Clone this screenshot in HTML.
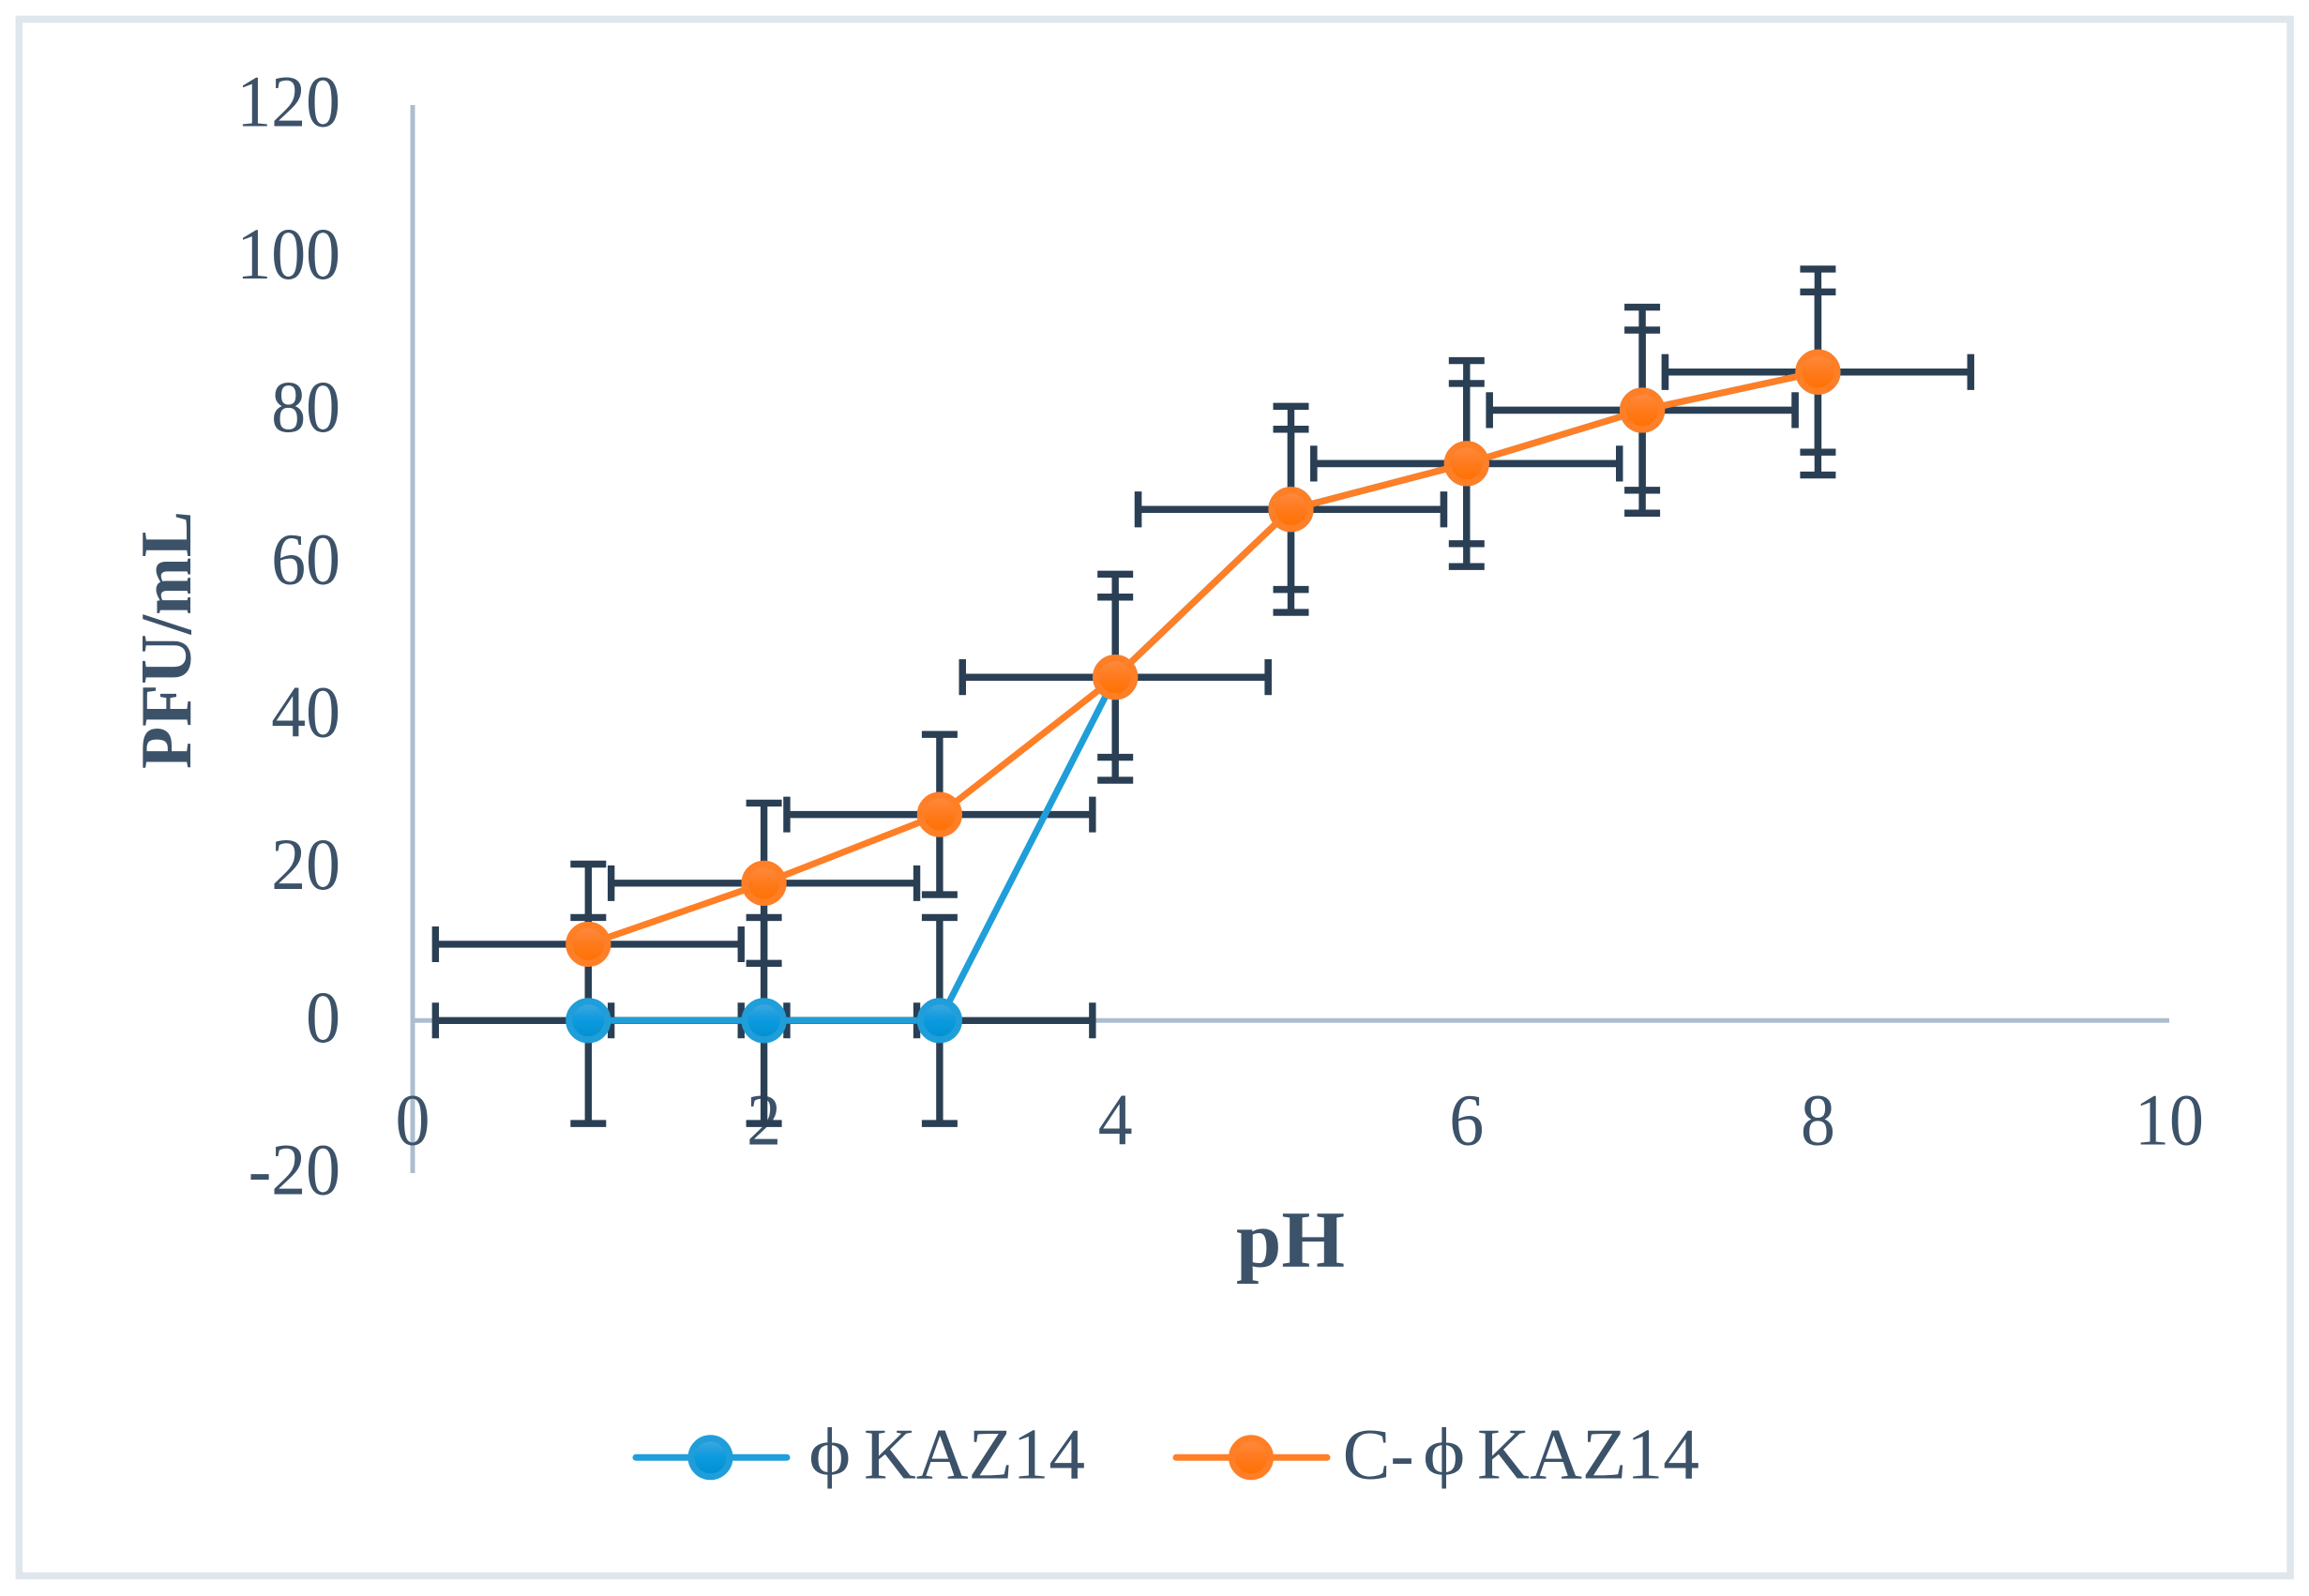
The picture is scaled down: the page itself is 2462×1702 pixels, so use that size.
<!DOCTYPE html>
<html lang="en">
<head>
<meta charset="utf-8">
<title>PFU/mL versus pH</title>
<style>
html,body{margin:0;padding:0;background:#fff;width:2462px;height:1702px;overflow:hidden}
svg{display:block}
text{font-family:"Liberation Serif","DejaVu Serif",serif;fill:#3c5269}
</style>
</head>
<body>
<svg id="chart" xmlns="http://www.w3.org/2000/svg" width="2462" height="1702" viewBox="0 0 2462 1702">
  <defs>
    <linearGradient id="blue-fill" x1="0" y1="0" x2="0" y2="1">
      <stop offset="0" stop-color="#47a9e2"/><stop offset="0.5" stop-color="#0a9ade"/><stop offset="1" stop-color="#0090d0"/>
    </linearGradient>
    <linearGradient id="orange-fill" x1="0" y1="0" x2="0" y2="1">
      <stop offset="0" stop-color="#ff8c42"/><stop offset="0.5" stop-color="#ff7a1c"/><stop offset="1" stop-color="#ff7000"/>
    </linearGradient>
  </defs>
  <rect x="20.3" y="20.5" width="2421.7" height="1660" fill="#fff" stroke="#dfe6ec" stroke-width="7.5"/>
  <g id="axes"></g>
  <g id="errors"></g>
  <g id="series"></g>
  <text x="1318" y="1350.5" font-size="86" font-weight="bold" textLength="116" lengthAdjust="spacingAndGlyphs">pH</text>
  <text transform="translate(203 820) rotate(-90)" font-size="77" font-weight="bold" textLength="275" lengthAdjust="spacingAndGlyphs">PFU/mL</text>
  <g>
    <g>
      <line x1="678" y1="1554.3" x2="839" y2="1554.3" stroke="#1f9ed9" stroke-width="7" stroke-linecap="round"/>
      <circle cx="757.5" cy="1554.3" r="20.5" fill="url(#blue-fill)" stroke="#1f9ed9" stroke-width="7"/>
      <text transform="translate(862 1572) scale(1.2 1)" font-size="72">ϕ</text>
      <text x="921" y="1576.7" font-size="77" textLength="236" lengthAdjust="spacingAndGlyphs">KAZ14</text>
    </g>
    <g>
      <line x1="1254" y1="1554.3" x2="1415" y2="1554.3" stroke="#ff7f27" stroke-width="7" stroke-linecap="round"/>
      <circle cx="1334" cy="1554.3" r="20.5" fill="url(#orange-fill)" stroke="#ff7f27" stroke-width="7"/>
      <text x="1431.7" y="1576.7" font-size="77" textLength="76" lengthAdjust="spacingAndGlyphs">C-</text>
      <text transform="translate(1517 1572) scale(1.2 1)" font-size="72">ϕ</text>
      <text x="1575" y="1576.7" font-size="77" textLength="237" lengthAdjust="spacingAndGlyphs">KAZ14</text>
    </g>
  </g>
</svg>
<script>
const xTicks = [0, 2, 4, 6, 8, 10];
const yTicks = [-20, 0, 20, 40, 60, 80, 100, 120];
const phValues = [1, 2, 3, 4, 5, 6, 7, 8];
const kaz14Values = [0, 0, 0, 45, 67, 73, 80, 85];
const cKaz14Values = [10, 18, 27, 45, 67, 73, 80, 85];
const kaz14YError = [13.5, 13.5, 13.5, 13.5, 13.5, 13.5, 13.5, 13.5];
const cKaz14YError = [10.5, 10.5, 10.5, 10.5, 10.5, 10.5, 10.5, 10.5];
const kaz14XError = [0.87, 0.87, 0.87, 0.87, 0.87, 0.87, 0.87, 0.87];
const cKaz14XError = [0.87, 0.87, 0.87, 0.87, 0.87, 0.87, 0.87, 0.87];

const NS = 'http://www.w3.org/2000/svg';
const sx = v => 440 + v * 187.3;
const sy = v => 1088.3 - v * 8.136;

function make(parent, tag, attrs) {
  const el = document.createElementNS(NS, tag);
  for (const k in attrs) el.setAttribute(k, attrs[k]);
  parent.appendChild(el);
  return el;
}
function labelWidth(s) {
  let w = 0;
  for (const c of s) w += c === '-' ? 0.333 : 0.5;
  return w * 78 * 0.945;
}

const axes = document.getElementById('axes');
const errors = document.getElementById('errors');
const series = document.getElementById('series');

const yAxisLine = make(axes, 'line', {x1: sx(0), x2: sx(0), y1: sy(120), y2: sy(-20), stroke: '#adbdd0', 'stroke-width': 5});


const xAxisLine = make(axes, 'line', {x1: sx(0), x2: sx(10), y1: sy(0), y2: sy(0), stroke: '#adbdd0', 'stroke-width': 5});



yTicks.forEach(v => {
  const s = String(v);
  const t = make(axes, 'text', {x: 363, y: sy(v) + 22.5, 'text-anchor': 'end', 'font-size': 78, textLength: labelWidth(s), lengthAdjust: 'spacingAndGlyphs'});
  t.textContent = s;
  
  
});
xTicks.forEach(v => {
  const s = String(v);
  const t = make(axes, 'text', {x: sx(v), y: 1220.5, 'text-anchor': 'middle', 'font-size': 78, textLength: labelWidth(s), lengthAdjust: 'spacingAndGlyphs'});
  t.textContent = s;
  
  
});

function drawErrors(xs, ys, xErr, yErr, key) {
  const col = '#2a3f54';
  xs.forEach((x, i) => {
    const cx = sx(x), cy = sy(ys[i]);
    const xl = sx(x - xErr[i]), xr = sx(x + xErr[i]);
    const yt = sy(ys[i] + yErr[i]), yb = sy(ys[i] - yErr[i]);
    const g = make(errors, 'path', {
      d: 'M' + xl + ' ' + cy + 'H' + xr +
         'M' + xl + ' ' + (cy - 19) + 'V' + (cy + 19) +
         'M' + xr + ' ' + (cy - 19) + 'V' + (cy + 19) +
         'M' + cx + ' ' + yt + 'V' + yb +
         'M' + (cx - 19) + ' ' + yt + 'H' + (cx + 19) +
         'M' + (cx - 19) + ' ' + yb + 'H' + (cx + 19),
      fill: 'none', stroke: col, 'stroke-width': 7.4
    });
    
    
  });
}
drawErrors(phValues, kaz14Values, kaz14XError, kaz14YError, 'kaz14');
drawErrors(phValues, cKaz14Values, cKaz14XError, cKaz14YError, 'c-kaz14');

function drawSeries(xs, ys, color, fill, key) {
  const pts = xs.map((x, i) => sx(x) + ',' + sy(ys[i])).join(' ');
  const line = make(series, 'polyline', {points: pts, fill: 'none', stroke: color, 'stroke-width': 7, 'stroke-linejoin': 'round', 'stroke-linecap': 'round'});
  
  
  xs.forEach((x, i) => {
    const c = make(series, 'circle', {cx: sx(x), cy: sy(ys[i]), r: 20.5, fill: fill, stroke: color, 'stroke-width': 7.2});
    
    
  });
}
drawSeries(phValues, kaz14Values, '#1f9ed9', 'url(#blue-fill)', 'kaz14');
drawSeries(phValues, cKaz14Values, '#ff7f27', 'url(#orange-fill)', 'c-kaz14');
</script>
</body>
</html>
